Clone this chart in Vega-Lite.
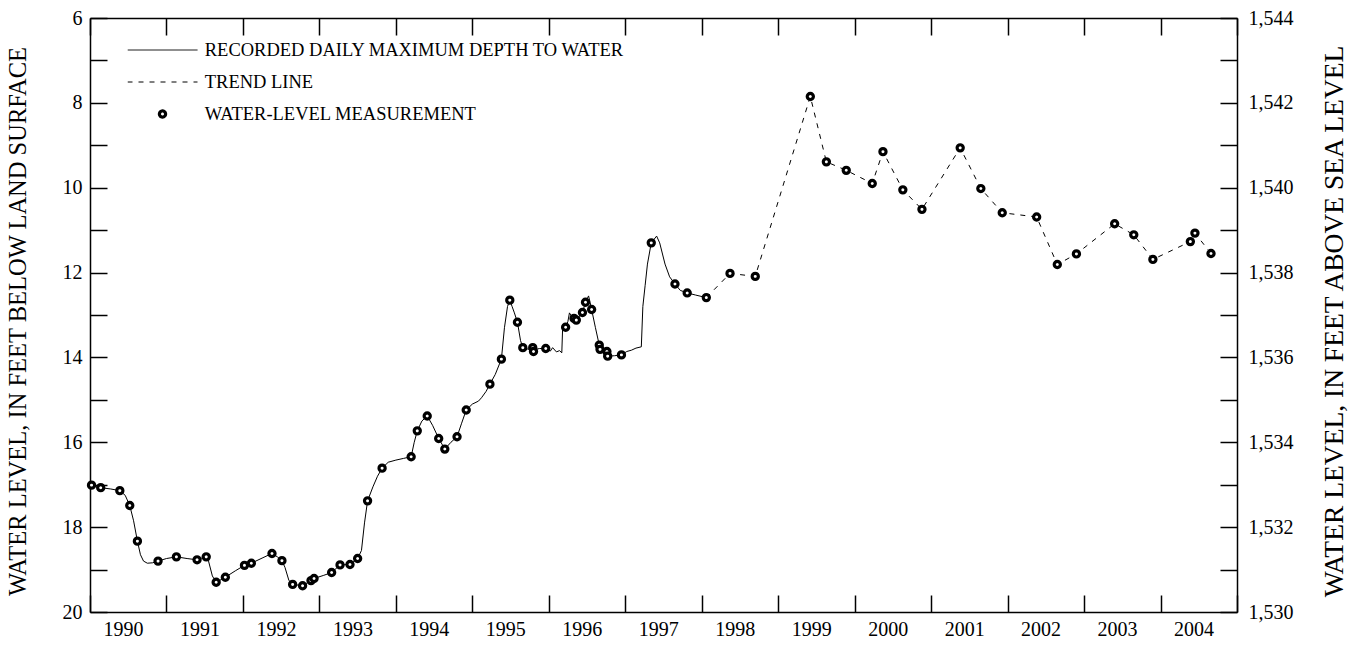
{
  "$schema": "https://vega.github.io/schema/vega-lite/v6.json",
  "width": 1147,
  "height": 594,
  "autosize": {"type": "none"},
  "padding": {"left": 90, "top": 18, "right": 127, "bottom": 33},
  "background": "white",
  "config": {
    "view": {"stroke": null},
    "font": "Liberation Serif",
    "axis": {
      "domainColor": "black", "domainWidth": 1.5,
      "tickColor": "black", "tickWidth": 1.5, "tickSize": -17,
      "labelColor": "black", "labelFont": "Liberation Serif", "labelFontSize": 20,
      "titleFont": "Liberation Serif", "titleFontSize": 24.5, "titleFontWeight": "normal", "titleColor": "black",
      "grid": false, "labelFlush": false, "labelOverlap": false
    },
    "legend": {
      "labelFont": "Liberation Serif", "labelFontSize": 18.5, "labelColor": "black", "labelLimit": 700
    }
  },
  "datasets": {
    "daily": [
      {"yr": 1990.0, "d": 17.0}, {"yr": 1990.02, "d": 17.01}, {"yr": 1990.08, "d": 17.05}, {"yr": 1990.14, "d": 17.07},
      {"yr": 1990.27, "d": 17.1}, {"yr": 1990.39, "d": 17.14}, {"yr": 1990.46, "d": 17.25}, {"yr": 1990.52, "d": 17.49},
      {"yr": 1990.57, "d": 17.85}, {"yr": 1990.62, "d": 18.33}, {"yr": 1990.66, "d": 18.65}, {"yr": 1990.7, "d": 18.8},
      {"yr": 1990.75, "d": 18.85}, {"yr": 1990.82, "d": 18.84}, {"yr": 1990.89, "d": 18.8}, {"yr": 1991.0, "d": 18.74},
      {"yr": 1991.13, "d": 18.7}, {"yr": 1991.27, "d": 18.74}, {"yr": 1991.4, "d": 18.77}, {"yr": 1991.46, "d": 18.73},
      {"yr": 1991.52, "d": 18.7}, {"yr": 1991.55, "d": 18.8}, {"yr": 1991.6, "d": 19.15}, {"yr": 1991.65, "d": 19.3},
      {"yr": 1991.77, "d": 19.18}, {"yr": 1991.9, "d": 19.03}, {"yr": 1992.02, "d": 18.9}, {"yr": 1992.11, "d": 18.85},
      {"yr": 1992.25, "d": 18.73}, {"yr": 1992.38, "d": 18.62}, {"yr": 1992.45, "d": 18.7}, {"yr": 1992.51, "d": 18.79},
      {"yr": 1992.55, "d": 18.95}, {"yr": 1992.6, "d": 19.25}, {"yr": 1992.65, "d": 19.35}, {"yr": 1992.78, "d": 19.38},
      {"yr": 1992.89, "d": 19.26}, {"yr": 1992.93, "d": 19.21}, {"yr": 1993.05, "d": 19.14}, {"yr": 1993.16, "d": 19.07},
      {"yr": 1993.27, "d": 18.89}, {"yr": 1993.4, "d": 18.88}, {"yr": 1993.5, "d": 18.74}, {"yr": 1993.55, "d": 18.55},
      {"yr": 1993.59, "d": 17.9}, {"yr": 1993.63, "d": 17.38}, {"yr": 1993.7, "d": 17.05}, {"yr": 1993.76, "d": 16.8},
      {"yr": 1993.82, "d": 16.61}, {"yr": 1993.9, "d": 16.47}, {"yr": 1994.0, "d": 16.42}, {"yr": 1994.1, "d": 16.38},
      {"yr": 1994.2, "d": 16.34}, {"yr": 1994.24, "d": 16.0}, {"yr": 1994.28, "d": 15.73}, {"yr": 1994.34, "d": 15.5},
      {"yr": 1994.41, "d": 15.38}, {"yr": 1994.48, "d": 15.6}, {"yr": 1994.56, "d": 15.91}, {"yr": 1994.64, "d": 16.16},
      {"yr": 1994.72, "d": 16.0}, {"yr": 1994.8, "d": 15.87}, {"yr": 1994.86, "d": 15.55}, {"yr": 1994.92, "d": 15.24},
      {"yr": 1995.0, "d": 15.1}, {"yr": 1995.08, "d": 15.03}, {"yr": 1995.12, "d": 14.95}, {"yr": 1995.18, "d": 14.8},
      {"yr": 1995.23, "d": 14.63}, {"yr": 1995.3, "d": 14.4}, {"yr": 1995.38, "d": 14.04}, {"yr": 1995.42, "d": 13.3},
      {"yr": 1995.46, "d": 12.8}, {"yr": 1995.49, "d": 12.65}, {"yr": 1995.52, "d": 12.8}, {"yr": 1995.55, "d": 12.95},
      {"yr": 1995.59, "d": 13.17}, {"yr": 1995.63, "d": 13.6}, {"yr": 1995.66, "d": 13.77}, {"yr": 1995.72, "d": 13.8},
      {"yr": 1995.8, "d": 13.82}, {"yr": 1995.88, "d": 13.79}, {"yr": 1995.96, "d": 13.79}, {"yr": 1996.02, "d": 13.85},
      {"yr": 1996.05, "d": 13.77}, {"yr": 1996.1, "d": 13.87}, {"yr": 1996.14, "d": 13.84}, {"yr": 1996.17, "d": 13.89},
      {"yr": 1996.18, "d": 13.35}, {"yr": 1996.22, "d": 13.29}, {"yr": 1996.25, "d": 13.15}, {"yr": 1996.27, "d": 12.95},
      {"yr": 1996.3, "d": 13.04}, {"yr": 1996.33, "d": 13.08}, {"yr": 1996.36, "d": 13.12}, {"yr": 1996.44, "d": 12.94},
      {"yr": 1996.48, "d": 12.7}, {"yr": 1996.52, "d": 12.55}, {"yr": 1996.54, "d": 12.7}, {"yr": 1996.56, "d": 12.87},
      {"yr": 1996.61, "d": 13.3}, {"yr": 1996.66, "d": 13.71}, {"yr": 1996.67, "d": 13.81}, {"yr": 1996.72, "d": 13.9},
      {"yr": 1996.76, "d": 13.86}, {"yr": 1996.77, "d": 13.97}, {"yr": 1996.86, "d": 13.96}, {"yr": 1996.95, "d": 13.94},
      {"yr": 1997.02, "d": 13.86}, {"yr": 1997.08, "d": 13.83}, {"yr": 1997.14, "d": 13.78}, {"yr": 1997.21, "d": 13.75},
      {"yr": 1997.23, "d": 12.8}, {"yr": 1997.26, "d": 12.3}, {"yr": 1997.29, "d": 11.8}, {"yr": 1997.34, "d": 11.3},
      {"yr": 1997.41, "d": 11.14}, {"yr": 1997.45, "d": 11.3}, {"yr": 1997.52, "d": 11.8}, {"yr": 1997.58, "d": 12.1},
      {"yr": 1997.65, "d": 12.27}, {"yr": 1997.72, "d": 12.42}, {"yr": 1997.81, "d": 12.48}, {"yr": 1997.92, "d": 12.53},
      {"yr": 1998.06, "d": 12.59}
    ],
    "trend": [
      {"yr": 1998.06, "d": 12.59}, {"yr": 1998.37, "d": 12.02}, {"yr": 1998.7, "d": 12.09}, {"yr": 1999.42, "d": 7.85},
      {"yr": 1999.63, "d": 9.39}, {"yr": 1999.89, "d": 9.59}, {"yr": 2000.23, "d": 9.9}, {"yr": 2000.37, "d": 9.15},
      {"yr": 2000.63, "d": 10.05}, {"yr": 2000.88, "d": 10.51}, {"yr": 2001.38, "d": 9.06}, {"yr": 2001.65, "d": 10.02},
      {"yr": 2001.93, "d": 10.59}, {"yr": 2002.38, "d": 10.69}, {"yr": 2002.65, "d": 11.81}, {"yr": 2002.9, "d": 11.56},
      {"yr": 2003.4, "d": 10.85}, {"yr": 2003.65, "d": 11.11}, {"yr": 2003.9, "d": 11.69}, {"yr": 2004.39, "d": 11.27},
      {"yr": 2004.45, "d": 11.07}, {"yr": 2004.66, "d": 11.55}
    ],
    "meas": [
      {"yr": 1990.02, "d": 17.01}, {"yr": 1990.14, "d": 17.07}, {"yr": 1990.39, "d": 17.14}, {"yr": 1990.52, "d": 17.49},
      {"yr": 1990.62, "d": 18.33}, {"yr": 1990.89, "d": 18.8}, {"yr": 1991.13, "d": 18.7}, {"yr": 1991.4, "d": 18.77},
      {"yr": 1991.52, "d": 18.7}, {"yr": 1991.65, "d": 19.3}, {"yr": 1991.77, "d": 19.18}, {"yr": 1992.02, "d": 18.9},
      {"yr": 1992.11, "d": 18.85}, {"yr": 1992.38, "d": 18.62}, {"yr": 1992.51, "d": 18.79}, {"yr": 1992.65, "d": 19.35},
      {"yr": 1992.78, "d": 19.38}, {"yr": 1992.89, "d": 19.26}, {"yr": 1992.93, "d": 19.21}, {"yr": 1993.16, "d": 19.07},
      {"yr": 1993.27, "d": 18.89}, {"yr": 1993.4, "d": 18.88}, {"yr": 1993.5, "d": 18.74}, {"yr": 1993.63, "d": 17.38},
      {"yr": 1993.82, "d": 16.61}, {"yr": 1994.2, "d": 16.34}, {"yr": 1994.28, "d": 15.73}, {"yr": 1994.41, "d": 15.38},
      {"yr": 1994.56, "d": 15.91}, {"yr": 1994.64, "d": 16.16}, {"yr": 1994.8, "d": 15.87}, {"yr": 1994.92, "d": 15.24},
      {"yr": 1995.23, "d": 14.63}, {"yr": 1995.38, "d": 14.04}, {"yr": 1995.49, "d": 12.65}, {"yr": 1995.59, "d": 13.17},
      {"yr": 1995.66, "d": 13.77}, {"yr": 1995.79, "d": 13.77}, {"yr": 1995.8, "d": 13.86}, {"yr": 1995.96, "d": 13.79},
      {"yr": 1996.22, "d": 13.29}, {"yr": 1996.33, "d": 13.08}, {"yr": 1996.36, "d": 13.12}, {"yr": 1996.44, "d": 12.94},
      {"yr": 1996.48, "d": 12.7}, {"yr": 1996.56, "d": 12.87}, {"yr": 1996.66, "d": 13.71}, {"yr": 1996.67, "d": 13.81},
      {"yr": 1996.76, "d": 13.86}, {"yr": 1996.77, "d": 13.97}, {"yr": 1996.95, "d": 13.94}, {"yr": 1997.34, "d": 11.3},
      {"yr": 1997.65, "d": 12.27}, {"yr": 1997.81, "d": 12.48}, {"yr": 1998.06, "d": 12.59}, {"yr": 1998.37, "d": 12.02},
      {"yr": 1998.7, "d": 12.09}, {"yr": 1999.42, "d": 7.85}, {"yr": 1999.63, "d": 9.39}, {"yr": 1999.89, "d": 9.59},
      {"yr": 2000.23, "d": 9.9}, {"yr": 2000.37, "d": 9.15}, {"yr": 2000.63, "d": 10.05}, {"yr": 2000.88, "d": 10.51},
      {"yr": 2001.38, "d": 9.06}, {"yr": 2001.65, "d": 10.02}, {"yr": 2001.93, "d": 10.59}, {"yr": 2002.38, "d": 10.69},
      {"yr": 2002.65, "d": 11.81}, {"yr": 2002.9, "d": 11.56}, {"yr": 2003.4, "d": 10.85}, {"yr": 2003.65, "d": 11.11},
      {"yr": 2003.9, "d": 11.69}, {"yr": 2004.39, "d": 11.27}, {"yr": 2004.45, "d": 11.07}, {"yr": 2004.66, "d": 11.55}
    ],
    "elev": [{"yr": 1990, "e": 1530}, {"yr": 2005, "e": 1544}]
  },
  "resolve": {"scale": {"y": "independent"}, "axis": {"x": "independent"}},
  "layer": [
    {
      "layer": [
        {
          "data": {"name": "daily"},
          "mark": {"type": "line", "strokeWidth": 1, "clip": true},
          "encoding": {
            "x": {"field": "yr", "type": "quantitative"},
            "y": {"field": "d", "type": "quantitative"},
            "stroke": {"datum": "RECORDED DAILY MAXIMUM DEPTH TO WATER", "type": "nominal"}
          }
        },
        {
          "data": {"name": "trend"},
          "mark": {"type": "line", "strokeWidth": 1, "strokeDash": [5, 6], "clip": true},
          "encoding": {
            "x": {"field": "yr", "type": "quantitative"},
            "y": {"field": "d", "type": "quantitative"},
            "stroke": {"datum": "TREND LINE", "type": "nominal"}
          }
        },
        {
          "data": {"name": "meas"},
          "mark": {"type": "point", "filled": true, "fill": "white", "strokeWidth": 3.2, "size": 38, "opacity": 1},
          "encoding": {
            "x": {"field": "yr", "type": "quantitative"},
            "y": {"field": "d", "type": "quantitative"},
            "stroke": {"datum": "WATER-LEVEL MEASUREMENT", "type": "nominal"}
          }
        }
      ],
      "encoding": {
        "x": {
          "field": "yr", "type": "quantitative",
          "scale": {"domain": [1990, 2005], "nice": false, "zero": false},
          "axis": {
            "title": null, "orient": "bottom",
            "values": [1990, 1991, 1992, 1993, 1994, 1995, 1996, 1997, 1998, 1999, 2000, 2001, 2002, 2003, 2004, 2005],
            "labelExpr": "datum.value < 2005 ? format(datum.value, 'd') : ''",
            "labelOffset": 33, "labelPadding": 24
          }
        },
        "y": {
          "field": "d", "type": "quantitative",
          "scale": {"domain": [6, 20], "reverse": true, "nice": false, "zero": false},
          "axis": {
            "title": "WATER LEVEL, IN FEET BELOW LAND SURFACE", "orient": "left",
            "values": [6, 7, 8, 9, 10, 11, 12, 13, 14, 15, 16, 17, 18, 19, 20],
            "labelExpr": "datum.value % 2 == 0 ? format(datum.value, 'd') : ''",
            "labelPadding": 25,
            "titleX": -65, "titleY": 303, "titleAngle": 270, "titleBaseline": "alphabetic", "titleAlign": "center"
          }
        },
        "stroke": {
          "type": "nominal",
          "scale": {
            "domain": ["RECORDED DAILY MAXIMUM DEPTH TO WATER", "TREND LINE", "WATER-LEVEL MEASUREMENT"],
            "range": ["black", "black", "black"]
          },
          "legend": {
            "title": null, "orient": "none", "legendX": 37.5, "legendY": 16,
            "padding": 0, "rowPadding": 0, "clipHeight": 32,
            "symbolType": "stroke", "symbolSize": 4900, "symbolStrokeWidth": 1, "symbolStrokeColor": "black",
            "symbolOffset": 25.75, "labelOffset": 33, "labelBaseline": "middle",
            "encode": {
              "symbols": {
                "update": {
                  "shape": {"signal": "datum.value === 'WATER-LEVEL MEASUREMENT' ? 'circle' : 'stroke'"},
                  "size": {"signal": "datum.value === 'WATER-LEVEL MEASUREMENT' ? 38 : 4900"},
                  "strokeWidth": {"signal": "datum.value === 'WATER-LEVEL MEASUREMENT' ? 3.2 : 1"},
                  "strokeDash": {"signal": "datum.value === 'TREND LINE' ? [5, 6] : [1, 0]"},
                  "fill": {"signal": "datum.value === 'WATER-LEVEL MEASUREMENT' ? 'white' : 'transparent'"},
                  "stroke": {"value": "black"},
                  "opacity": {"value": 1}
                }
              }
            }
          }
        }
      }
    },
    {
      "data": {"name": "elev"},
      "mark": {"type": "point", "opacity": 0},
      "encoding": {
        "x": {
          "field": "yr", "type": "quantitative",
          "axis": {
            "title": null, "orient": "top", "labels": false,
            "values": [1990, 1991, 1992, 1993, 1994, 1995, 1996, 1997, 1998, 1999, 2000, 2001, 2002, 2003, 2004, 2005]
          }
        },
        "y": {
          "field": "e", "type": "quantitative",
          "scale": {"domain": [1530, 1544], "nice": false, "zero": false},
          "axis": {
            "title": "WATER LEVEL, IN FEET ABOVE SEA LEVEL", "orient": "right",
            "values": [1530, 1531, 1532, 1533, 1534, 1535, 1536, 1537, 1538, 1539, 1540, 1541, 1542, 1543, 1544],
            "labelExpr": "datum.value % 2 == 0 ? format(datum.value, ',') : ''",
            "labelPadding": 28,
            "titleFontSize": 27.5,
            "titleX": 105, "titleY": 303, "titleAngle": 270, "titleBaseline": "alphabetic", "titleAlign": "center"
          }
        }
      }
    }
  ]
}
